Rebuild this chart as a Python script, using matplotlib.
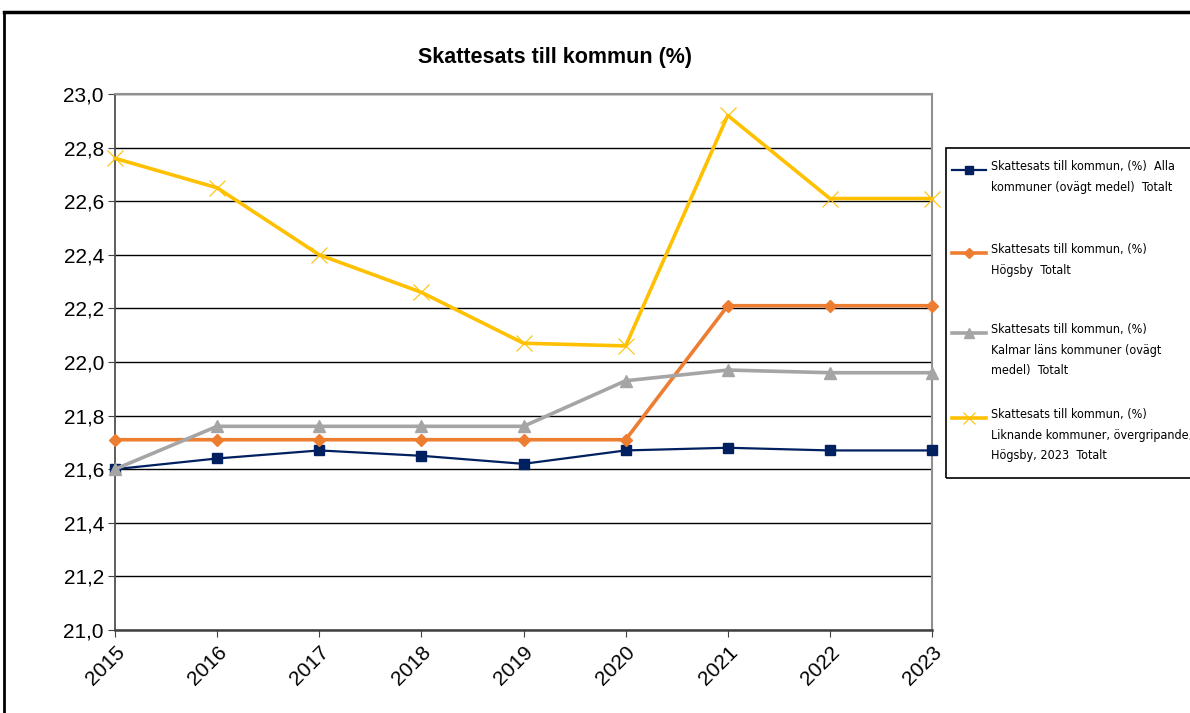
import matplotlib
matplotlib.use("Agg")
import matplotlib.pyplot as plt
from matplotlib.lines import Line2D
from matplotlib.patches import Rectangle
from matplotlib.ticker import MultipleLocator, FuncFormatter
from matplotlib import font_manager

plt.rcParams["font.family"] = ["Liberation Sans", "DejaVu Sans"]

# data
years = ["2015", "2016", "2017", "2018", "2019", "2020", "2021", "2022", "2023"]
alla = [21.60, 21.64, 21.67, 21.65, 21.62, 21.67, 21.68, 21.67, 21.67]
hogsby = [21.71, 21.71, 21.71, 21.71, 21.71, 21.71, 22.21, 22.21, 22.21]
kalmar = [21.60, 21.76, 21.76, 21.76, 21.76, 21.93, 21.97, 21.96, 21.96]
liknande = [22.76, 22.65, 22.40, 22.26, 22.07, 22.06, 22.92, 22.61, 22.61]

labels = [
    "Skattesats till kommun, (%)  Alla\nkommuner (ovägt medel)  Totalt",
    "Skattesats till kommun, (%)\nHögsby  Totalt",
    "Skattesats till kommun, (%)\nKalmar läns kommuner (ovägt\nmedel)  Totalt",
    "Skattesats till kommun, (%)\nLiknande kommuner, övergripande,\nHögsby, 2023  Totalt",
]

styles = [
    dict(color="#002060", lw=1.6, marker="s", ms=6.5),
    dict(color="#ED7D31", lw=2.6, marker="D", ms=6),
    dict(color="#A5A5A5", lw=2.6, marker="^", ms=8.5),
    dict(color="#FFC000", lw=2.6, marker="x", ms=11, mew=0.8),
]

# use a condensed face for the legend if one is installed
cond = font_manager.FontProperties(family="DejaVu Sans", stretch="condensed")
if "Condensed" in font_manager.findfont(cond):
    leg_font = dict(fontproperties=font_manager.FontProperties(family="DejaVu Sans", stretch="condensed", size=9.0))
else:
    leg_font = dict(fontsize=8.4)

fig = plt.figure(figsize=(11.9, 7.13), dpi=100)
W, H = 1190, 713
ax = fig.add_axes([115 / W, 1 - 630 / H, (932 - 115) / W, (630 - 94) / H])

x = list(range(len(years)))
series = [alla, hogsby, kalmar, liknande]
for vals, st in zip(series, styles):
    ax.plot(x, vals, clip_on=False, zorder=3, **st)

ax.set_xlim(0, len(years) - 1)
ax.set_ylim(21.0, 23.0)
ax.yaxis.set_major_locator(MultipleLocator(0.2))
ax.yaxis.set_major_formatter(FuncFormatter(lambda v, p: f"{v:.1f}".replace(".", ",")))
ax.set_xticks(x)
ax.set_xticklabels(years, rotation=45, ha="right", rotation_mode="anchor", fontsize=15)
ax.tick_params(axis="y", labelsize=15, length=5, color="#404040", pad=3)
ax.tick_params(axis="x", length=5, color="#404040", pad=4)
ax.grid(axis="y", color="black", lw=1)
ax.set_axisbelow(True)
for s in ["top", "right"]:
    ax.spines[s].set_color("#909090")
    ax.spines[s].set_linewidth(1.5)
ax.spines["left"].set_color("#505050")
ax.spines["bottom"].set_color("#404040")
ax.spines["left"].set_linewidth(1.3)
ax.spines["bottom"].set_linewidth(1.8)

fig.text(555 / W, 1 - 57 / H, "Skattesats till kommun (%)", ha="center", va="center",
         fontsize=15.5, fontweight="bold")

# outer chart frame
fig.add_artist(Line2D([4 / W, 1], [1 - 12 / H, 1 - 12 / H], color="black", lw=2.5))
fig.add_artist(Line2D([4 / W, 4 / W], [1 - 12 / H, 0], color="black", lw=2))

# legend box
fig.add_artist(Rectangle((946 / W, 1 - 478 / H), (1200 - 946) / W, (478 - 148) / H,
                         fill=False, edgecolor="black", lw=1.2))
entry_y = [170, 253, 333, 418]
for yy, lab, st in zip(entry_y, labels, styles):
    fy = 1 - yy / H
    fig.add_artist(Line2D([952 / W, 986 / W], [fy, fy], color=st["color"], lw=st["lw"]))
    fig.add_artist(Line2D([969 / W], [fy], color=st["color"], marker=st["marker"],
                          ms=st["ms"] * 0.8, mew=st.get("mew", 1), lw=0))
    fig.text(991 / W, fy + 10 / H, lab, ha="left", va="top", linespacing=1.75, **leg_font)

fig.savefig("out.png", dpi=100)
